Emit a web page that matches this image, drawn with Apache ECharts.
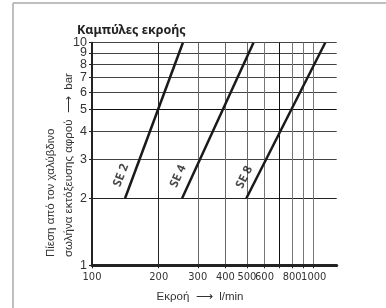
<!DOCTYPE html>
<html>
<head>
<meta charset="utf-8">
<script src="https://cdn.jsdelivr.net/npm/echarts@6/dist/echarts.min.js"></script>
<style>html,body{margin:0;padding:0;background:#fff}#c{width:386px;height:308px}</style>
</head>
<body>
<div id="c"></div>
<script>
const xTicks = [100, 200, 300, 400, 500, 600, 700, 800, 900, 1000];
const xLabels = [1000, 100, 200, 300, 400, 500, 600, 800];
const yTicks = [1, 2, 3, 4, 5, 6, 7, 8, 9, 10];
const yLabelsA = [1, 2, 3, 4, 5, 6, 8, 10];
const yLabelsB = [7, 9];
const seriesNames = ['SE 2', 'SE 4', 'SE 8'];
const se2Flow = [141, 257];
const se4Flow = [255, 535];
const se8Flow = [497, 1127];
const pressure = [2, 10];

const flows = [se2Flow, se4Flow, se8Flow];
const vColors = ['#222', '#666', '#666', '#666', '#777', '#111', '#777', '#777', '#777', '#777'];
const hColors = ['#222', '#444', '#444', '#111', '#444', '#444', '#444', '#444', '#444', '#444'];

// label placement (screen displacement from lower end of each line, and text angle)
const labelShift = [[-4, -23], [-4, -22], [-2, -21]];
const labelAngle = [69, 66, 63];
function rotOffset(d, deg) {
  const t = deg * Math.PI / 180, c = Math.cos(t), s = Math.sin(t);
  return [d[0] * c - d[1] * s, d[0] * s + d[1] * c];
}

const yLabelStyle = {
  margin: 5, hideOverlap: false, showMinLabel: true, showMaxLabel: true,
  formatter: v => String(v),
  fontFamily: 'Liberation Sans, sans-serif', fontSize: 12.5, color: '#333'
};

const chart = echarts.init(document.getElementById('c'));
chart.setOption({
  animation: false,
  backgroundColor: '#fff',
  grid: { left: 92, top: 42.7, right: 49.3, bottom: 42.7 },
  title: {
    text: 'Καμπύλες εκροής', left: 72, top: 19,
    textStyle: { fontFamily: 'Noto Sans', fontWeight: 'bold', fontSize: 12.5, color: '#222' }
  },
  xAxis: {
    type: 'log', logBase: 10, min: 100, max: 1270,
    axisLine: { show: true, lineStyle: { color: '#222', width: 3 } },
    axisTick: { show: true, length: 3, customValues: xTicks, lineStyle: { color: '#222' } },
    axisLabel: {
      customValues: xLabels, margin: 6, hideOverlap: false, showMinLabel: true, showMaxLabel: true,
      formatter: v => String(v),
      fontFamily: 'Liberation Sans Narrow, DejaVu Sans Condensed, sans-serif', fontSize: 11, color: '#333'
    },
    splitLine: { show: true, showMinLine: false, lineStyle: { color: vColors, width: 1 } },
    minorTick: { show: false }, minorSplitLine: { show: false }
  },
  yAxis: [{
    type: 'log', logBase: 10, min: 1, max: 10, position: 'left',
    axisLine: { show: true, lineStyle: { color: '#222', width: 2 } },
    axisTick: { show: true, length: 3, customValues: yTicks, lineStyle: { color: '#222' } },
    axisLabel: Object.assign({ customValues: yLabelsA }, yLabelStyle),
    splitLine: { show: true, showMinLine: false, showMaxLine: true, lineStyle: { color: hColors, width: 1 } }
  }, {
    type: 'log', logBase: 10, min: 1, max: 10, position: 'left', offset: 0,
    axisLine: { show: false },
    axisTick: { show: false, length: 3, customValues: yLabelsB },
    axisLabel: Object.assign({ customValues: yLabelsB }, yLabelStyle),
    splitLine: { show: false }
  }],
  graphic: [
    { type: 'line', shape: { x1: 13, y1: 3, x2: 386, y2: 3 }, style: { stroke: '#aaa', lineWidth: 1.5 } },
    { type: 'line', shape: { x1: 13, y1: 3, x2: 13, y2: 308 }, style: { stroke: '#aaa', lineWidth: 1.5 } },
    { type: 'text', x: 51, y: 257, rotation: Math.PI / 2,
      style: { text: 'Πίεση από τον χαλύβδινο', fontFamily: 'Liberation Sans, sans-serif', fontSize: 11.5, fill: '#333', textAlign: 'left', textVerticalAlign: 'middle' } },
    { type: 'text', x: 69, y: 257, rotation: Math.PI / 2,
      style: { text: 'σωλήνα εκτόξευσης αφρού  ⟶  bar', fontFamily: 'Liberation Sans, sans-serif', fontSize: 11.5, fill: '#333', textAlign: 'left', textVerticalAlign: 'middle' } },
    { type: 'text', x: 200, y: 297,
      style: { text: 'Εκροή  ⟶  l/min', fontFamily: 'Liberation Sans, sans-serif', fontSize: 11.5, fill: '#333', textAlign: 'center', textVerticalAlign: 'middle' } }
  ],
  series: flows.map((f, i) => ({
    type: 'line', name: seriesNames[i], yAxisIndex: 0,
    data: f.map((x, j) => [x, pressure[j]]),
    symbol: 'none', showSymbol: false,
    lineStyle: { color: '#1a1a1a', width: 2.5 }
  })).concat(flows.map((f, i) => ({
    type: 'scatter', name: seriesNames[i] + ' label', yAxisIndex: 0,
    data: [[f[0], pressure[0]]],
    symbolSize: 0,
    label: {
      show: true, formatter: seriesNames[i], position: 'inside',
      rotate: labelAngle[i], offset: rotOffset(labelShift[i], labelAngle[i]),
      fontFamily: 'Noto Sans', fontWeight: 'bold', fontSize: 12, color: '#1a1a1a',
      align: 'center', verticalAlign: 'middle'
    }
  })))
});
</script>
</body>
</html>
